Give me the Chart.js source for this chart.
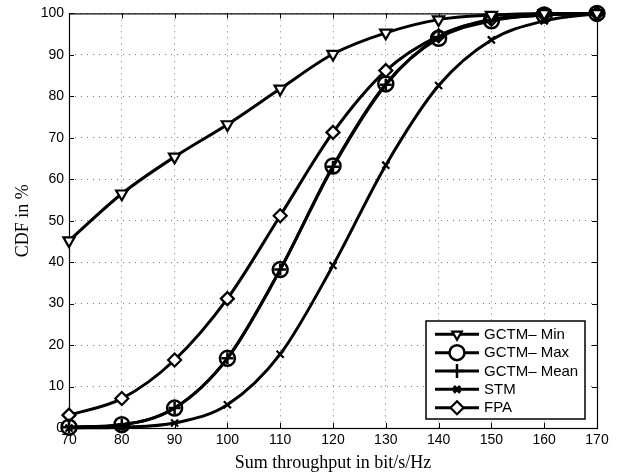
<!DOCTYPE html>
<html><head><meta charset="utf-8">
<script src="https://cdn.jsdelivr.net/npm/chart.js@4.4.1/dist/chart.umd.min.js"></script>
<style>html,body{margin:0;padding:0;background:#fff}#wrap{width:618px;height:476px}canvas{display:block}</style>
</head><body><div id="wrap"><canvas id="c" width="618" height="476"></canvas></div>
<script>
const throughput = [70, 80, 90, 100, 110, 120, 130, 140, 150, 160, 170];
const gctmMin  = [45.2, 56.5, 65.4, 73.2, 81.8, 90.2, 95.3, 98.5, 99.6, 100, 100];
const gctmMax  = [0.2, 0.8, 4.8, 16.8, 38.2, 63.2, 83.0, 94.0, 98.2, 99.6, 100];
const gctmMean = [0.2, 0.8, 4.8, 16.8, 38.2, 63.0, 82.8, 94.3, 98.4, 99.6, 100];
const stm      = [0, 0.2, 1.2, 5.6, 17.8, 39.2, 63.4, 82.6, 93.6, 98.2, 100];
const fpa      = [3.1, 7.1, 16.4, 31.2, 51.2, 71.3, 86.2, 94.6, 98.6, 99.7, 100];
const seriesLabels = ['GCTM\u2013 Min', 'GCTM\u2013 Max', 'GCTM\u2013 Mean', 'STM', 'FPA'];
const xTitle = 'Sum throughput in bit/s/Hz';
const yTitle = 'CDF in %';

const SANS = '"Liberation Sans", Arial, Helvetica, sans-serif';
const SERIF = '"Liberation Serif", "Times New Roman", serif';

function mk(label, arr, style, r, rot, bw, lr) {
  return {
    label: label,
    data: throughput.map((x, i) => ({x: x, y: arr[i]})),
    borderColor: '#000', backgroundColor: '#fff',
    borderWidth: 3,
    pointStyle: style, pointRadius: r, pointRotation: rot || 0,
    pointBorderWidth: bw, pointBackgroundColor: '#fff', pointBorderColor: '#000',
    pointHoverRadius: r,
    cubicInterpolationMode: 'monotone',
    clip: false,
    legendRadius: lr
  };
}

const datasets = [
  mk(seriesLabels[0], gctmMin, 'triangle', 6.5, 180, 2.2, 5.5),
  mk(seriesLabels[1], gctmMax, 'circle', 7.5, 0, 2.5, 7.5),
  mk(seriesLabels[2], gctmMean, 'cross', 6, 0, 2.5, 7),
  mk(seriesLabels[3], stm, 'crossRot', 5, 0, 2.2, 4.5),
  mk(seriesLabels[4], fpa, 'rectRot', 6.5, 0, 2.2, 6.5)
];
datasets[1].pointBackgroundColor = 'rgba(255,255,255,0)';
datasets[2].pointBackgroundColor = 'rgba(255,255,255,0)';

const frame = {
  id: 'frame',
  beforeDatasetsDraw(chart) {
    const {ctx, chartArea: a, scales} = chart;
    ctx.save();
    ctx.strokeStyle = '#000';
    ctx.lineWidth = 1;
    const tl = 5;
    ctx.beginPath();
    scales.x.ticks.forEach(t => {
      const px = Math.round(scales.x.getPixelForValue(t.value)) + 0.5;
      ctx.moveTo(px, a.bottom); ctx.lineTo(px, a.bottom - tl);
      ctx.moveTo(px, a.top); ctx.lineTo(px, a.top + tl);
    });
    scales.y.ticks.forEach(t => {
      const py = Math.round(scales.y.getPixelForValue(t.value)) + 0.5;
      ctx.moveTo(a.left, py); ctx.lineTo(a.left + tl, py);
      ctx.moveTo(a.right, py); ctx.lineTo(a.right - tl, py);
    });
    ctx.stroke();
    ctx.lineWidth = 1.2;
    ctx.strokeRect(a.left + 0.5, a.top + 0.5, a.right - a.left, a.bottom - a.top);
    ctx.restore();
  },
  afterDraw(chart) {
    const {ctx} = chart;
    const bx = 426, by = 321, bw = 159, bh = 98;
    ctx.save();
    ctx.fillStyle = '#fff';
    ctx.fillRect(bx, by, bw, bh);
    ctx.strokeStyle = '#000';
    ctx.lineWidth = 1.5;
    ctx.strokeRect(bx, by, bw, bh);
    chart.data.datasets.forEach((ds, i) => {
      const y = 334.3 + i * 18.35;
      ctx.strokeStyle = '#000';
      ctx.lineWidth = 3;
      ctx.beginPath(); ctx.moveTo(435, y); ctx.lineTo(479, y); ctx.stroke();
      ctx.fillStyle = '#fff';
      ctx.strokeStyle = '#000';
      ctx.lineWidth = ds.pointBorderWidth + (ds.pointStyle === 'crossRot' ? 1 : 0);
      Chart.helpers.drawPoint(ctx, {pointStyle: ds.pointStyle, radius: ds.legendRadius, rotation: ds.pointRotation, borderWidth: ds.pointBorderWidth}, 457, y);
      ctx.fillStyle = '#000';
      ctx.font = '15px ' + SANS;
      ctx.textBaseline = 'middle';
      ctx.textAlign = 'left';
      ctx.fillText(ds.label, 484, y + 0.5);
    });
    ctx.restore();
  }
};

new Chart(document.getElementById('c'), {
  type: 'line',
  data: {datasets: datasets},
  plugins: [frame],
  options: {
    responsive: false,
    devicePixelRatio: 1,
    animation: false,
    events: [],
    layout: {padding: {top: 13, right: 21, left: 0, bottom: 0}},
    plugins: {legend: {display: false}, tooltip: {enabled: false}},
    scales: {
      x: {
        type: 'linear', min: 70, max: 170,
        afterFit(s) { s.height = 48; },
        ticks: {stepSize: 10, color: '#000', font: {family: SANS, size: 14}, padding: 4, maxRotation: 0},
        grid: {color: '#777', lineWidth: 1, drawTicks: false},
        border: {display: false, dash: [1, 5]},
        title: {display: true, text: xTitle, color: '#000', font: {family: SERIF, size: 18}, padding: {top: 0, bottom: 2}}
      },
      y: {
        min: 0, max: 100,
        afterFit(s) { s.width = 69; },
        ticks: {stepSize: 10, color: '#000', font: {family: SANS, size: 14}, padding: 5},
        grid: {color: '#777', lineWidth: 1, drawTicks: false},
        border: {display: false, dash: [1, 5]},
        title: {display: true, text: yTitle, color: '#000', font: {family: SERIF, size: 18}, padding: {top: 12, bottom: 0}}
      }
    }
  }
});
</script></body></html>
